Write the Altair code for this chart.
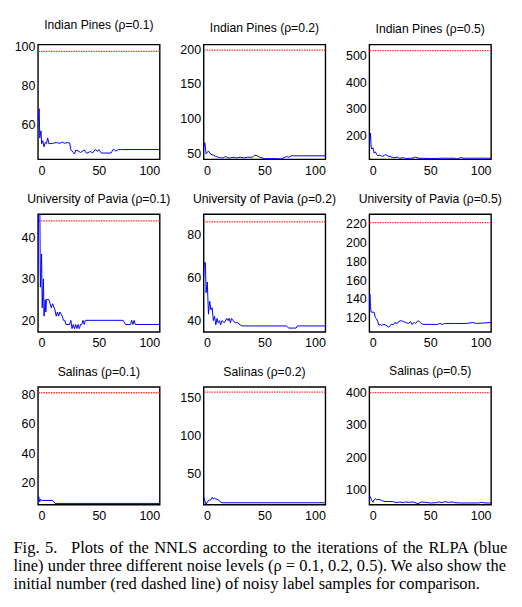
import altair as alt
import pandas as pd

# ---------------- data ----------------
panel_titles = [
    "Indian Pines (ρ=0.1)", "Indian Pines (ρ=0.2)", "Indian Pines (ρ=0.5)",
    "University of Pavia (ρ=0.1)", "University of Pavia (ρ=0.2)", "University of Pavia (ρ=0.5)",
    "Salinas (ρ=0.1)", "Salinas (ρ=0.2)", "Salinas (ρ=0.5)",
]

ip1_x = [0, 1, 1.5, 2.5, 3, 4, 5, 6, 7, 8, 9, 12, 15, 18, 20, 22, 24, 26, 27, 29, 30, 31, 33, 35, 38, 40, 43, 45, 47, 49, 50, 52, 60, 62, 64, 66, 68, 100]
ip1_y = [61.7, 68, 53, 56.6, 50, 51.5, 48.4, 50.6, 50, 53, 50, 50.2, 50.6, 50.2, 50.8, 50.2, 50.6, 50.4, 47, 45.5, 44.7, 46.7, 46.3, 45.5, 46.8, 45.1, 46, 45.3, 47, 46.1, 47, 45.2, 45.2, 47.2, 46.2, 47, 47, 47]

ip2_x = [0, 1, 2, 4, 6, 8, 10, 12, 14, 16, 18, 20, 22, 25, 27, 30, 33, 36, 40, 42, 44, 46, 48, 50, 55, 60, 63, 66, 68, 70, 72, 75, 100]
ip2_y = [57, 65, 49, 53, 48, 47, 45, 44, 43, 43, 45, 43, 43, 44, 43, 44, 43, 44, 44, 47, 46, 44, 43, 42, 42, 42, 41.5, 43, 45, 44, 46, 46, 46]

ip5_x = [0, 1, 1.5, 2, 3, 4, 5, 6, 7, 9, 10, 12, 13, 15, 17, 20, 23, 25, 28, 30, 35, 38, 40, 50, 55, 60, 70, 72, 75, 78, 100]
ip5_y = [172, 210, 160, 150, 155, 135, 140, 130, 125, 128, 123, 125, 130, 125, 122, 118, 120, 116, 118, 115, 116, 120, 116, 115, 115, 116, 116, 113, 118, 116, 116]

up1_x = [0, 0.5, 1.5, 2, 3, 3.5, 4.5, 5, 6, 6.5, 7, 9, 10, 11, 12, 14, 15, 16, 17, 18, 20, 21, 22, 23, 26, 27, 28, 29, 30, 31, 32, 33, 34, 35, 36, 37, 38, 39, 70, 72, 76, 77, 78, 79, 80, 100]
up1_y = [31, 50, 50, 28, 36, 23, 30, 21, 25, 22, 25, 25, 24, 23, 24, 22.5, 21, 22, 21, 22, 21, 20, 20, 19, 19, 20, 18, 19, 18, 19, 18, 19, 18, 19, 19, 20, 19, 20, 20, 19, 19, 20, 19, 20, 19, 19]

up2_x = [0, 0.5, 1.5, 2, 3, 4, 5, 6, 7, 8, 9, 10, 11, 12, 13, 14, 15, 17, 19, 20, 21, 22, 23, 24, 26, 28, 30, 32, 68, 70, 76, 77, 100]
up2_y = [60, 67, 67, 53, 58, 43, 49, 45, 46, 40, 42, 38, 41, 39, 40, 38, 40, 39, 41, 40, 41, 39, 41, 40, 39, 39, 38, 37.5, 37.5, 36.5, 36.5, 37.5, 37.5]

up5_x = [0, 0.5, 1, 1.5, 4, 5, 6, 7, 8, 9, 10, 12, 14, 16, 18, 20, 21, 23, 24, 26, 28, 30, 32, 34, 35, 37, 38, 40, 42, 44, 50, 56, 58, 60, 62, 70, 80, 85, 88, 100]
up5_y = [128, 145, 132, 126, 126, 120, 119, 116, 112, 113, 112, 113, 112, 110, 113, 113, 115, 114, 116, 117, 116, 115, 114, 116, 113, 115, 114, 117, 115, 113, 113, 113, 114, 113, 114, 114, 114, 115, 114, 115]

sa1_x = [0, 0.5, 1, 1.5, 2, 3, 12, 13, 14, 100]
sa1_y = [8, 11, 9, 7, 9, 8, 8, 7, 6, 6]

sa2_x = [0, 1, 2, 4, 6, 7, 8, 9, 10, 12, 13, 15, 100]
sa2_y = [20, 15, 10, 15, 16, 19, 17, 18, 17, 16, 14, 12, 12]

sa5_x = [0, 1, 2, 3, 4, 5, 6, 8, 10, 12, 20, 22, 25, 28, 30, 33, 36, 40, 43, 46, 50, 55, 57, 60, 62, 65, 68, 70, 75, 80, 90, 92, 95, 100]
sa5_y = [82, 78, 68, 62, 70, 73, 70, 71, 68, 65, 64, 61, 63, 61, 63, 62, 63, 58, 63, 62, 60, 61, 63, 61, 64, 62, 63, 61, 60, 60, 60, 62, 60, 60]

blue_x = [ip1_x, ip2_x, ip5_x, up1_x, up2_x, up5_x, sa1_x, sa2_x, sa5_x]
blue_y = [ip1_y, ip2_y, ip5_y, up1_y, up2_y, up5_y, sa1_y, sa2_y, sa5_y]

red_levels = [97.5, 199, 517, 44, 86, 221, 81, 157, 399]

y_domains = [[42, 101], [41, 207], [112, 540],
             [17.2, 45.6], [34.7, 89.6], [105, 230],
             [5.2, 85], [9.6, 164], [55, 417]]
y_ticks = [[60, 80, 100], [50, 100, 150, 200], [200, 300, 400, 500],
           [20, 30, 40], [40, 60, 80], [120, 140, 160, 180, 200, 220],
           [20, 40, 60, 80], [50, 100, 150], [100, 200, 300, 400]]
x_ticks = [0, 50, 100]

HS = "\u200a"   # hair space, used to emulate justified lines
NB = "\u00a0"
caption_lines = [
    ("Fig. 5." + NB + NB + " Plots of the NNLS according to the iterations of the RLPA (blue").replace(" ", " " + HS),
    "line) under three different noise levels (ρ = 0.1, 0.2, 0.5). We also show the",
    "initial number (red dashed line) of noisy label samples for comparison.",
]

row_heights = [115, 118, 118]

# ---------------- chart ----------------
panels = []
for i in range(9):
    df = pd.DataFrame({"x": blue_x[i], "y": blue_y[i]})
    red_df = pd.DataFrame({"y": [red_levels[i]]})
    yscale = alt.Scale(domain=y_domains[i], nice=False, zero=False)
    xenc = alt.X("x:Q", scale=alt.Scale(domain=[0, 100], nice=False),
                 axis=alt.Axis(values=x_ticks, labelPadding=5), title=None)
    yenc = alt.Y("y:Q", scale=yscale,
                 axis=alt.Axis(values=y_ticks[i], labelPadding=3), title=None)
    rule = alt.Chart(red_df).mark_rule(color="#ff3030", strokeWidth=1.3,
                                       strokeDash=[1.5, 1]).encode(y=yenc)
    line = alt.Chart(df).mark_line(color="#0000ff", strokeWidth=1,
                                   clip=True).encode(x=xenc, y=yenc)
    p = alt.layer(rule, line).properties(
        width=122, height=row_heights[i // 3],
        title=alt.TitleParams(panel_titles[i], frame="group", offset=9,
                              font="Liberation Sans", fontSize=12.2,
                              fontWeight="normal", color="black"),
    )
    panels.append(p)

chart = alt.concat(*panels, columns=3, spacing={"row": 55, "column": 44},
                   bounds="flush").properties(
    padding={"top": 10, "left": 5, "right": 5, "bottom": 5},
    title=alt.TitleParams(caption_lines, orient="bottom", anchor="start",
                          frame="bounds", font="Liberation Serif", fontSize=16.5,
                          fontWeight="normal", lineHeight=18, offset=17,
                          color="black"),
).configure_view(
    stroke="black", strokeWidth=1.4
).configure_axis(
    grid=False, domain=False, ticks=False,
    labelFont="Liberation Sans", labelFontSize=12.5, labelColor="black",
)

chart.save("out.html", embed_options={"renderer": "svg", "actions": False})
